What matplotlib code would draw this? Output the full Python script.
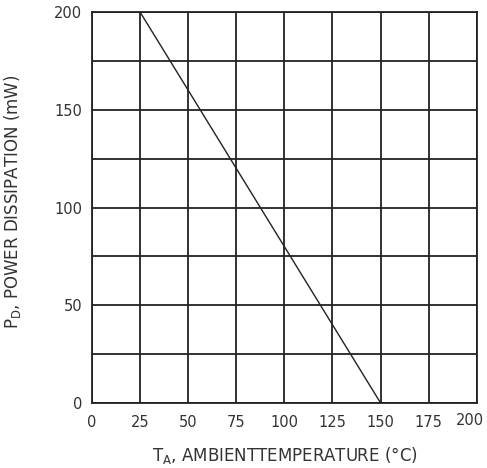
import matplotlib
matplotlib.use("Agg")
from matplotlib import pyplot as plt
from matplotlib.transforms import ScaledTranslation
import numpy as np

# derating curve
temp = [0, 25, 150]
power = [200, 200, 0]

x_ticks = [0, 25, 50, 75, 100, 125, 150, 175, 200]
y_ticks = [0, 50, 100, 150, 200]
y_grid = [0, 25, 50, 75, 100, 125, 150, 175, 200]

plt.rcParams['font.family'] = ['DejaVu Sans']

fig = plt.figure(figsize=(4.87, 4.68), dpi=100)
ax = fig.add_axes([0.189, 0.139, 0.790, 0.835])

for yv in y_grid:
    ax.axhline(yv, color='#222222', lw=1.3, zorder=1)
for xv in x_ticks:
    ax.axvline(xv, color='#222222', lw=1.3, zorder=1)

ax.plot(temp, power, color='#222222', lw=1.0, zorder=2)

ax.set_xlim(0, 200)
ax.set_ylim(0, 200)
ax.set_xticks(x_ticks)
ax.set_yticks(y_ticks)
ax.tick_params(length=0, labelsize=10.5, colors='#333333')
ax.tick_params(axis='x', pad=9)
ax.tick_params(axis='y', pad=7)
for s in ax.spines.values():
    s.set_linewidth(1.3)
    s.set_color('#222222')

# last x label sits a bit left/up in the original
last = ax.get_xticklabels()[-1]
last.set_transform(last.get_transform() + ScaledTranslation(-7/100, 2/100, fig.dpi_scale_trans))

ax.set_xlabel(r'T$_\mathregular{A}$, AMBIENTTEMPERATURE (°C)', fontsize=12,
              color='#333333')
ax.set_ylabel(r'P$_\mathregular{D}$, POWER DISSIPATION (mW)', fontsize=12,
              color='#333333')
ax.xaxis.set_label_coords(0.5, -0.108)
ax.yaxis.set_label_coords(-0.18, 0.515)

plt.savefig('out.png', dpi=100)
